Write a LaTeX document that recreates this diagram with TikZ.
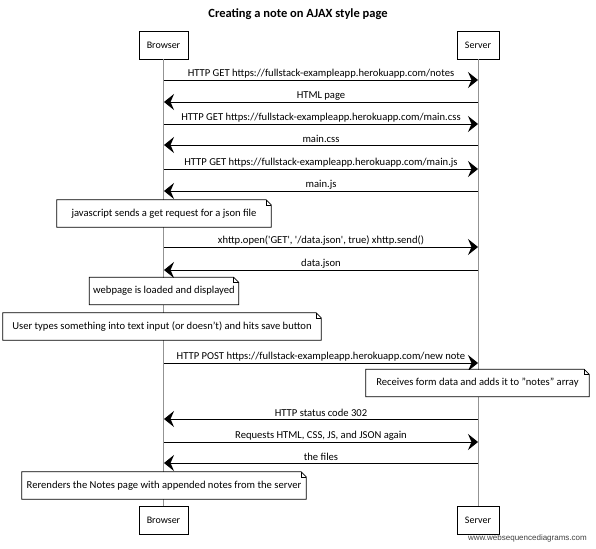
\documentclass[tikz,border=0pt]{standalone}
\usepackage{fontspec}
\setmainfont{Carlito}
\newfontfamily\footfont{Liberation Sans}
\usetikzlibrary{arrows.meta}

\tikzset{
  actor/.style={draw, line width=0.8pt, minimum height=28pt, inner sep=0pt, font=\fontsize{10}{12}\selectfont},
  lifeline/.style={draw=gray!85, line width=0.8pt},
  msg/.style={line width=0.9pt, -{Stealth[length=10pt,width=16pt,inset=3.5pt]}},
  msglabel/.style={above=1.5pt, inner sep=0pt, font=\fontsize{10.6}{12}\selectfont},
  notebox/.style={fill=white, minimum height=27pt, inner sep=0pt, font=\fontsize{10.6}{12}\selectfont},
}

% outline of a note with a folded corner
\newcommand{\noteoutline}[1]{%
  \draw[line width=0.7pt] (#1.north west) -- ([xshift=-5pt]#1.north east)
    -- ([yshift=-5pt]#1.north east) -- (#1.south east) -- (#1.south west) -- cycle;
  \draw[line width=0.5pt] ([xshift=-5pt]#1.north east) |- ([yshift=-5pt]#1.north east);
}

\begin{document}
\begin{tikzpicture}[x=1pt,y=-1pt]
  \useasboundingbox[fill=white] (0,0) rectangle (596,548);

  % Title
  \node[font=\bfseries\fontsize{12.5}{14}\selectfont] (title) at (298,14) {Creating a note on AJAX style page};

  % Participants
  \node[actor, minimum width=49pt] (browser) at (163.5,45) {Browser};
  \node[actor, minimum width=42pt] (server) at (478,45) {Server};
  \node[actor, minimum width=49pt] (browserend) at (163.5,520.5) {Browser};
  \node[actor, minimum width=42pt] (serverend) at (478,520.5) {Server};

  % Lifelines
  \draw[lifeline] (browser) -- (browserend);
  \draw[lifeline] (server) -- (serverend);

  % Message ends on the lifelines
  \coordinate (b1) at (164,80);  \coordinate (s1) at (478,80);
  \coordinate (b2) at (164,102); \coordinate (s2) at (478,102);
  \coordinate (b3) at (164,124); \coordinate (s3) at (478,124);
  \coordinate (b4) at (164,145); \coordinate (s4) at (478,145);
  \coordinate (b5) at (164,169); \coordinate (s5) at (478,169);
  \coordinate (b6) at (164,191); \coordinate (s6) at (478,191);
  \coordinate (b7) at (164,247); \coordinate (s7) at (478,247);
  \coordinate (b8) at (164,270); \coordinate (s8) at (478,270);
  \coordinate (b9) at (164,363); \coordinate (s9) at (478,363);
  \coordinate (b10) at (164,419); \coordinate (s10) at (478,419);
  \coordinate (b11) at (164,442); \coordinate (s11) at (478,442);
  \coordinate (b12) at (164,463); \coordinate (s12) at (478,463);

  % Loading the page
  \draw[msg] (b1) -- node[msglabel] {HTTP GET https://fullstack-exampleapp.herokuapp.com/notes} (s1);
  \draw[msg] (s2) -- node[msglabel] {HTML page} (b2);
  \draw[msg] (b3) -- node[msglabel] {HTTP GET https://fullstack-exampleapp.herokuapp.com/main.css} (s3);
  \draw[msg] (s4) -- node[msglabel] {main.css} (b4);
  \draw[msg] (b5) -- node[msglabel] {HTTP GET https://fullstack-exampleapp.herokuapp.com/main.js} (s5);
  \draw[msg] (s6) -- node[msglabel] {main.js} (b6);

  % Note
  \node[notebox, minimum width=214pt] (jsnote) at (164,213.5) {javascript sends a get request for a json file};
  \noteoutline{jsnote}

  % Data
  \draw[msg] (b7) -- node[msglabel] {xhttp.open(\textquotesingle GET\textquotesingle, \textquotesingle/data.json\textquotesingle, true) xhttp.send()} (s7);
  \draw[msg] (s8) -- node[msglabel] {data.json} (b8);

  % Notes
  \node[notebox, minimum width=149pt] (loadnote) at (164,291) {webpage is loaded and displayed};
  \noteoutline{loadnote}
  \node[notebox, minimum width=318pt] (inputnote) at (162,326.5) {User types something into text input (or doesn't) and hits save button};
  \noteoutline{inputnote}

  % Saving the note
  \draw[msg] (b9) -- node[msglabel] {HTTP POST https://fullstack-exampleapp.herokuapp.com/new note} (s9);

  % Note
  \node[notebox, minimum width=223pt] (savenote) at (477.5,383) {Receives form data and adds it to "notes" array};
  \noteoutline{savenote}

  % Redirect
  \draw[msg] (s10) -- node[msglabel] {HTTP status code 302} (b10);
  \draw[msg] (b11) -- node[msglabel] {Requests HTML, CSS, JS, and JSON again} (s11);
  \draw[msg] (s12) -- node[msglabel] {the files} (b12);

  % Note
  \node[notebox, minimum width=284pt] (rendernote) at (164,485.5) {Rerenders the Notes page with appended notes from the server};
  \noteoutline{rendernote}

  % Footer
  \node[anchor=east, inner sep=0pt, text=black!75, font=\footfont\fontsize{8}{10}\selectfont] (footer) at (587,538) {www.websequencediagrams.com};
\end{tikzpicture}
\end{document}
